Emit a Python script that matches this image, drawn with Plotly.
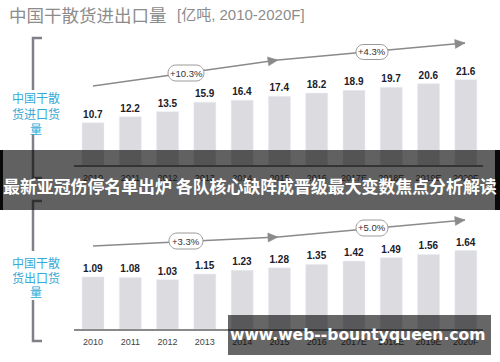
import plotly.graph_objects as go

# ---------------- data ----------------
years = ['2010', '2011', '2012', '2013', '2014', '2015', '2016', '2017E', '2018E', '2019E', '2020F']
imports = [10.7, 12.2, 13.5, 15.9, 16.4, 17.4, 18.2, 18.9, 19.7, 20.6, 21.6]
exports = [1.09, 1.08, 1.03, 1.15, 1.23, 1.28, 1.35, 1.42, 1.49, 1.56, 1.64]
cagr_import = ['+10.3%', '+4.3%']
cagr_export = ['+3.3%', '+5.0%']
title_cn = '中国干散货进出口量'
title_unit = '[亿吨, 2010-2020F]'
label_import = ['中国干散', '货进口货', '量']
label_export = ['中国干散', '货出口货', '量']
banner_text = '最新亚冠伤停名单出炉 各队核心缺阵成晋级最大变数焦点分析解读'
watermark_text = 'www.web--bountyqueen.com'

W, H = 500, 362


def px(x):
    return x / W


def py(y):
    return 1 - y / H


BAR = '#dcdce0'
NARROW = 'Liberation Sans Narrow, Arial Narrow, Liberation Sans, Arial, sans-serif'
SANS = 'Liberation Sans, Arial, Noto Sans CJK SC, sans-serif'
CJK = 'Noto Sans CJK SC, sans-serif'

fig = go.Figure()
fig.add_trace(go.Bar(
    x=years, y=imports, xaxis='x', yaxis='y', marker_color=BAR, width=0.59,
    text=[f'<b>{v:.1f}</b>' for v in imports], textposition='outside',
    textfont=dict(family=NARROW, size=10, color='#20202a'), cliponaxis=False,
    hoverinfo='skip'))
fig.add_trace(go.Bar(
    x=years, y=exports, xaxis='x2', yaxis='y2', marker_color=BAR, width=0.59,
    text=[f'<b>{v:.2f}</b>' for v in exports], textposition='outside',
    textfont=dict(family=NARROW, size=10, color='#20202a'), cliponaxis=False,
    hoverinfo='skip'))

xcommon = dict(type='category', range=[-0.51, 10.46], domain=[px(74), px(483)],
               showline=True, linecolor='#8a8a8a', linewidth=1.5, showgrid=False,
               ticks='', ticklabelstandoff=3,
               tickfont=dict(family=SANS, size=9, color='#444'),
               zeroline=False, fixedrange=True)
fig.update_layout(
    width=W, height=H, autosize=False,
    margin=dict(l=0, r=0, t=0, b=0),
    paper_bgcolor='white', plot_bgcolor='white',
    showlegend=False,
    xaxis=dict(**xcommon, anchor='y'),
    yaxis=dict(domain=[py(165), py(30)], range=[0, (165 - 30) / 3.95], visible=False,
               fixedrange=True),
    xaxis2=dict(**xcommon, anchor='y2'),
    yaxis2=dict(domain=[py(329), py(200)], range=[0, (329 - 200) / 47.8], visible=False,
                fixedrange=True),
)

shapes = []
annotations = []
LINE = '#8a8a8a'


def P(x, y):
    return f'{px(x):.5f},{py(y):.5f}'


def pill(cx, cy, w, h):
    r = h / 2
    k = 0.5523
    l, rt, t, b = cx - w / 2, cx + w / 2, cy - h / 2, cy + h / 2
    return ('M' + P(l + r, t) + ' L' + P(rt - r, t) +
            ' C' + P(rt - r + k * r, t) + ' ' + P(rt, t + r - k * r) + ' ' + P(rt, t + r) +
            ' L' + P(rt, b - r) +
            ' C' + P(rt, b - r + k * r) + ' ' + P(rt - r + k * r, b) + ' ' + P(rt - r, b) +
            ' L' + P(l + r, b) +
            ' C' + P(l + r - k * r, b) + ' ' + P(l, b - r + k * r) + ' ' + P(l, b - r) +
            ' L' + P(l, t + r) +
            ' C' + P(l, t + r - k * r) + ' ' + P(l + r - k * r, t) + ' ' + P(l + r, t) + ' Z')


def arrow(x0, y0, x1, y1):
    shapes.append(dict(type='line', xref='paper', yref='paper', layer='above',
                       x0=px(x0), y0=py(y0), x1=px(x1), y1=py(y1),
                       line=dict(color=LINE, width=1.3)))
    dx, dy = x1 - x0, y1 - y0
    n = (dx * dx + dy * dy) ** 0.5
    ux, uy = dx / n, dy / n
    L, hw = 10, 4.5
    bx, by = x1 - ux * L, y1 - uy * L
    path = ('M' + P(x1, y1) + ' L' + P(bx - uy * hw, by + ux * hw) +
            ' L' + P(bx + uy * hw, by - ux * hw) + ' Z')
    shapes.append(dict(type='path', xref='paper', yref='paper', layer='above', path=path,
                       fillcolor=LINE, line=dict(color=LINE, width=0.5)))


def tag(cx, cy, w, h, text):
    shapes.append(dict(type='path', xref='paper', yref='paper', layer='above',
                       path=pill(cx, cy, w, h), fillcolor='white',
                       line=dict(color='#9a9a9a', width=1)))
    annotations.append(dict(xref='paper', yref='paper', x=px(cx), y=py(cy), text=text,
                            showarrow=False, xanchor='center', yanchor='middle',
                            font=dict(family=NARROW, size=9.5, color='#333')))


# trend arrows + CAGR tags
arrow(93, 86, 278, 60)
arrow(278, 60, 465, 43)
tag(186, 73, 36, 16, cagr_import[0])
tag(372, 52, 32, 15, cagr_import[1])
arrow(93, 246, 278, 237)
arrow(278, 237, 465, 220)
tag(186, 241, 34, 16, cagr_export[0])
tag(372, 228, 32, 16, cagr_export[1])

# left brackets
BR = '#808088'
for pth in [[(42, 38), (33, 38), (33, 90)], [(33, 134), (33, 178), (42, 178)],
            [(42, 201), (33, 201), (33, 251)], [(33, 300), (33, 341), (42, 341)]]:
    path = 'M' + ' L'.join(P(x, y) for x, y in pth)
    shapes.append(dict(type='path', xref='paper', yref='paper', layer='above', path=path,
                       line=dict(color=BR, width=2.5)))

for txt, y in zip(label_import, [98, 113, 128]):
    annotations.append(dict(xref='paper', yref='paper', x=px(35.5), y=py(y), text=txt,
                            showarrow=False, xanchor='center', yanchor='middle',
                            font=dict(family=CJK, size=12, color='#36aad6')))
for txt, y in zip(label_export, [262, 277, 291]):
    annotations.append(dict(xref='paper', yref='paper', x=px(35.5), y=py(y), text=txt,
                            showarrow=False, xanchor='center', yanchor='middle',
                            font=dict(family=CJK, size=12, color='#36aad6')))

# title
annotations.append(dict(xref='paper', yref='paper', x=px(7), y=py(15), text=title_cn,
                        showarrow=False, xanchor='left', yanchor='middle',
                        font=dict(family=CJK, size=17.5, color='#8c8c8c')))
annotations.append(dict(xref='paper', yref='paper', x=px(175), y=py(15), text=title_unit,
                        showarrow=False, xanchor='left', yanchor='middle',
                        font=dict(family=SANS, size=15, color='#8c8c8c')))

# overlay banner
shapes.append(dict(type='rect', xref='paper', yref='paper', layer='above',
                   x0=0, x1=1, y0=py(210), y1=py(150), fillcolor='rgba(0,0,0,0.62)',
                   line=dict(width=0)))
for x0, x1 in [(0, 3), (495, 500)]:
    shapes.append(dict(type='rect', xref='paper', yref='paper', layer='above',
                       x0=px(x0), x1=px(x1), y0=py(210), y1=py(150),
                       fillcolor='rgba(0,0,0,0.9)', line=dict(width=0)))
annotations.append(dict(xref='paper', yref='paper', x=0.5, y=py(185), text=f'<b>{banner_text}</b>',
                        showarrow=False, xanchor='center', yanchor='middle',
                        font=dict(family=CJK, size=16.9, color='white')))

# watermark
shapes.append(dict(type='rect', xref='paper', yref='paper', layer='above',
                   x0=px(228), x1=px(491), y0=py(355), y1=py(315),
                   fillcolor='rgba(0,0,0,0.6)', line=dict(width=0)))
annotations.append(dict(xref='paper', yref='paper', x=px(358), y=py(335), text=f'<b>{watermark_text}</b>',
                        showarrow=False, xanchor='center', yanchor='middle',
                        font=dict(family='DejaVu Sans, sans-serif', size=15.6, color='white')))

fig.update_layout(shapes=shapes, annotations=annotations)
fig.write_html('out.html', config={'displayModeBar': False},
               post_script="document.body.style.margin='0';document.body.style.padding='0';")
